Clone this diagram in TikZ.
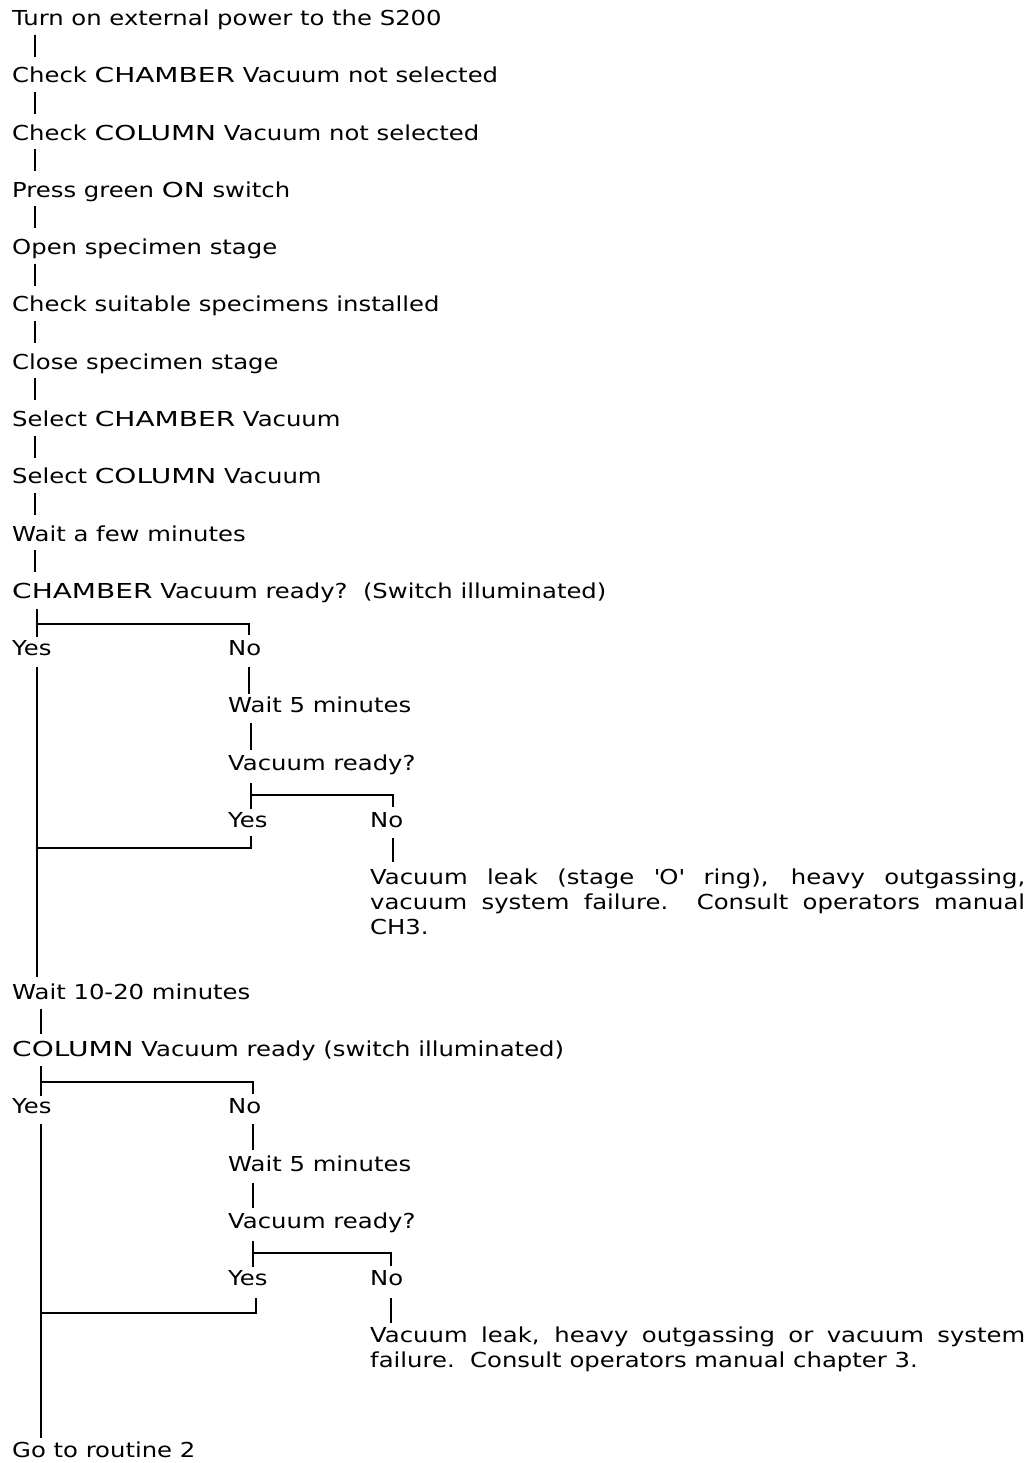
\documentclass[tikz,border=0pt]{standalone}
\usepackage{fontspec}
\setmainfont[FakeStretch=1.18]{DejaVu Sans}
\newfontfamily\capwide[FakeStretch=1.36]{DejaVu Sans}
\newcommand\CW[1]{{\capwide #1}}
\begin{document}
\begin{tikzpicture}[x=1pt,y=-1pt,
  txt/.style={anchor=west,inner sep=0pt,text height=15pt,text depth=0pt,font=\fontsize{20.6}{25}\selectfont},
  conn/.style={line width=1.7pt,line cap=butt,line join=miter}]
\useasboundingbox (0,0) rectangle (1032,1463);
% column x positions
\coordinate (mc) at (35,0);
\coordinate (c1) at (37,0);
\coordinate (c2) at (41,0);
\coordinate (b1) at (249,0);
\coordinate (b2) at (251,0);
\coordinate (b3) at (393,0);
\coordinate (d1) at (253,0);
\coordinate (d2) at (256,0);
\coordinate (d3) at (391,0);
% main sequence
\node[txt] (t0) at (12,18) {Turn on external power to the S200};
\node[txt] (t1) at (12,75.3) {Check \CW{CHAMBER} Vacuum not selected};
\node[txt] (t2) at (12,132.6) {Check \CW{COLUMN} Vacuum not selected};
\node[txt] (t3) at (12,189.8) {Press green \CW{ON} switch};
\node[txt] (t4) at (12,247.1) {Open specimen stage};
\node[txt] (t5) at (12,304.4) {Check suitable specimens installed};
\node[txt] (t6) at (12,361.7) {Close specimen stage};
\node[txt] (t7) at (12,419.0) {Select \CW{CHAMBER} Vacuum};
\node[txt] (t8) at (12,476.2) {Select \CW{COLUMN} Vacuum};
\node[txt] (t9) at (12,533.5) {Wait a few minutes};
\node[txt] (cham) at (12,590.8) {\CW{CHAMBER} Vacuum ready?\ \ (Switch illuminated)};
\foreach \a/\b in {t0/t1,t1/t2,t2/t3,t3/t4,t4/t5,t5/t6,t6/t7,t7/t8,t8/t9,t9/cham}
  \draw[conn,shorten <=9pt,shorten >=11pt] (\a.south -| mc) -- (\b.north -| mc);
% CHAMBER decision
\node[txt] (yes1) at (12,648.1) {Yes};
\node[txt] (no1) at (228,648.1) {No};
\node[txt] (w5a) at (228,705.4) {Wait 5 minutes};
\node[txt] (vr1) at (228,762.6) {Vacuum ready?};
\node[txt] (yes2) at (228,819.9) {Yes};
\node[txt] (no2) at (370,819.9) {No};
\node[txt] (lk1a) at (370,877.2) {\makebox[655pt][s]{Vacuum leak (stage \textquotesingle O\textquotesingle\ ring), heavy outgassing,}};
\node[txt] (lk1b) at (370,902.2) {\makebox[655pt][s]{vacuum system failure.\ \ Consult operators manual}};
\node[txt] (lk1c) at (370,927.2) {CH3.};
\node[txt] (w1020) at (12,991.8) {Wait 10-20 minutes};
\coordinate (j1) at (37,624);
\coordinate (j2) at (251,795);
\coordinate (j3) at (38,848);
\draw[conn,shorten <=10pt,shorten >=3pt] (cham.south -| c1) -- (yes1.north -| c1);
\draw[conn,shorten >=5pt] (j1) -- (j1 -| b1) -- (no1.north -| b1);
\draw[conn,shorten <=11pt,shorten >=7pt] (yes1.south -| c1) -- (w1020.north -| c1);
\draw[conn,shorten <=11pt,shorten >=4pt] (no1.south -| b1) -- (w5a.north -| b1);
\draw[conn,shorten <=10pt,shorten >=5pt] (w5a.south -| b2) -- (vr1.north -| b2);
\draw[conn,shorten <=13pt,shorten >=3pt] (vr1.south -| b2) -- (yes2.north -| b2);
\draw[conn,shorten >=5pt] (j2) -- (j2 -| b3) -- (no2.north -| b3);
\draw[conn,shorten <=8pt] (yes2.south -| b2) -- (j3 -| b2) -- (j3);
\draw[conn,shorten <=10pt,shorten >=8pt] (no2.south -| b3) -- (lk1a.north -| b3);
% COLUMN decision
\node[txt] (colm) at (12,1049.0) {\CW{COLUMN} Vacuum ready (switch illuminated)};
\node[txt] (yes3) at (12,1106.3) {Yes};
\node[txt] (no3) at (228,1106.3) {No};
\node[txt] (w5b) at (228,1163.6) {Wait 5 minutes};
\node[txt] (vr2) at (228,1220.9) {Vacuum ready?};
\node[txt] (yes4) at (228,1278.2) {Yes};
\node[txt] (no4) at (370,1278.2) {No};
\node[txt] (lk2a) at (370,1335.4) {\makebox[655pt][s]{Vacuum leak, heavy outgassing or vacuum system}};
\node[txt] (lk2b) at (370,1360.4) {failure.\ \ Consult operators manual chapter 3.};
\node[txt] (go) at (12,1450.0) {Go to routine 2};
\coordinate (k1) at (40,1082);
\coordinate (k2) at (253,1253);
\coordinate (k3) at (42,1313);
\draw[conn,shorten <=9pt,shorten >=7pt] (w1020.south -| c2) -- (colm.north -| c2);
\draw[conn,shorten <=9pt,shorten >=3pt] (colm.south -| c2) -- (yes3.north -| c2);
\draw[conn,shorten >=5pt] (k1) -- (k1 -| d1) -- (no3.north -| d1);
\draw[conn,shorten <=10pt,shorten >=4pt] (yes3.south -| c2) -- (go.north -| c2);
\draw[conn,shorten <=10pt,shorten >=6pt] (no3.south -| d1) -- (w5b.north -| d1);
\draw[conn,shorten <=12pt,shorten >=5pt] (w5b.south -| d1) -- (vr2.north -| d1);
\draw[conn,shorten <=12pt,shorten >=4pt] (vr2.south -| d1) -- (yes4.north -| d1);
\draw[conn,shorten >=5pt] (k2) -- (k2 -| d3) -- (no4.north -| d3);
\draw[conn,shorten <=12pt] (yes4.south -| d2) -- (k3 -| d2) -- (k3);
\draw[conn,shorten <=12pt,shorten >=5pt] (no4.south -| d3) -- (lk2a.north -| d3);
\end{tikzpicture}
\end{document}
